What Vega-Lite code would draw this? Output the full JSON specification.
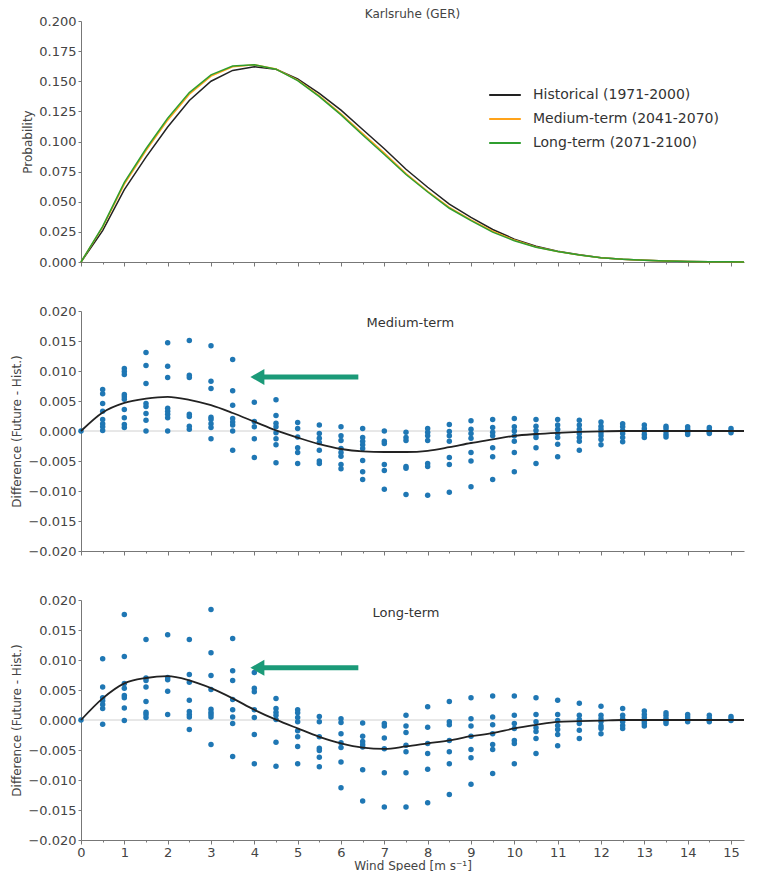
{
  "$schema": "https://vega.github.io/schema/vega-lite/v6.json",
  "padding": {"left": 10, "top": 8, "right": 5, "bottom": 0},
  "background": "white",
  "spacing": 36,
  "config": {
    "font": "DejaVu Sans",
    "view": {"stroke": null},
    "axis": {"labelFont": "DejaVu Sans", "labelFontSize": 13, "labelColor": "#444", "titleFont": "DejaVu Sans", "titleFontSize": 12, "titleFontWeight": "normal", "titleColor": "#444", "domainColor": "#777", "tickColor": "#777", "grid": false, "tickSize": 4, "labelPadding": 2},
    "title": {"font": "DejaVu Sans", "fontSize": 12, "fontWeight": "normal", "color": "#444"}
  },
  "datasets": {
    "pdf": [
      {"ws": 0, "p": 0, "period": "Historical (1971-2000)"},
      {"ws": 0.5, "p": 0.026, "period": "Historical (1971-2000)"},
      {"ws": 1, "p": 0.060, "period": "Historical (1971-2000)"},
      {"ws": 1.5, "p": 0.087, "period": "Historical (1971-2000)"},
      {"ws": 2, "p": 0.112, "period": "Historical (1971-2000)"},
      {"ws": 2.5, "p": 0.134, "period": "Historical (1971-2000)"},
      {"ws": 3, "p": 0.150, "period": "Historical (1971-2000)"},
      {"ws": 3.5, "p": 0.159, "period": "Historical (1971-2000)"},
      {"ws": 4, "p": 0.162, "period": "Historical (1971-2000)"},
      {"ws": 4.5, "p": 0.160, "period": "Historical (1971-2000)"},
      {"ws": 5, "p": 0.152, "period": "Historical (1971-2000)"},
      {"ws": 5.5, "p": 0.140, "period": "Historical (1971-2000)"},
      {"ws": 6, "p": 0.126, "period": "Historical (1971-2000)"},
      {"ws": 6.5, "p": 0.110, "period": "Historical (1971-2000)"},
      {"ws": 7, "p": 0.094, "period": "Historical (1971-2000)"},
      {"ws": 7.5, "p": 0.077, "period": "Historical (1971-2000)"},
      {"ws": 8, "p": 0.062, "period": "Historical (1971-2000)"},
      {"ws": 8.5, "p": 0.048, "period": "Historical (1971-2000)"},
      {"ws": 9, "p": 0.037, "period": "Historical (1971-2000)"},
      {"ws": 9.5, "p": 0.027, "period": "Historical (1971-2000)"},
      {"ws": 10, "p": 0.019, "period": "Historical (1971-2000)"},
      {"ws": 10.5, "p": 0.013, "period": "Historical (1971-2000)"},
      {"ws": 11, "p": 0.009, "period": "Historical (1971-2000)"},
      {"ws": 11.5, "p": 0.006, "period": "Historical (1971-2000)"},
      {"ws": 12, "p": 0.0036, "period": "Historical (1971-2000)"},
      {"ws": 12.5, "p": 0.0023, "period": "Historical (1971-2000)"},
      {"ws": 13, "p": 0.0014, "period": "Historical (1971-2000)"},
      {"ws": 13.5, "p": 0.0008, "period": "Historical (1971-2000)"},
      {"ws": 14, "p": 0.0005, "period": "Historical (1971-2000)"},
      {"ws": 14.5, "p": 0.0003, "period": "Historical (1971-2000)"},
      {"ws": 15, "p": 0.0002, "period": "Historical (1971-2000)"},
      {"ws": 15.3, "p": 0.0001, "period": "Historical (1971-2000)"},
      {"ws": 0, "p": 0, "period": "Medium-term (2041-2070)"},
      {"ws": 0.5, "p": 0.029, "period": "Medium-term (2041-2070)"},
      {"ws": 1, "p": 0.0646, "period": "Medium-term (2041-2070)"},
      {"ws": 1.5, "p": 0.0924, "period": "Medium-term (2041-2070)"},
      {"ws": 2, "p": 0.1177, "period": "Medium-term (2041-2070)"},
      {"ws": 2.5, "p": 0.1392, "period": "Medium-term (2041-2070)"},
      {"ws": 3, "p": 0.1543, "period": "Medium-term (2041-2070)"},
      {"ws": 3.5, "p": 0.162, "period": "Medium-term (2041-2070)"},
      {"ws": 4, "p": 0.1636, "period": "Medium-term (2041-2070)"},
      {"ws": 4.5, "p": 0.1601, "period": "Medium-term (2041-2070)"},
      {"ws": 5, "p": 0.1509, "period": "Medium-term (2041-2070)"},
      {"ws": 5.5, "p": 0.1378, "period": "Medium-term (2041-2070)"},
      {"ws": 6, "p": 0.123, "period": "Medium-term (2041-2070)"},
      {"ws": 6.5, "p": 0.1066, "period": "Medium-term (2041-2070)"},
      {"ws": 7, "p": 0.0905, "period": "Medium-term (2041-2070)"},
      {"ws": 7.5, "p": 0.0734, "period": "Medium-term (2041-2070)"},
      {"ws": 8, "p": 0.0587, "period": "Medium-term (2041-2070)"},
      {"ws": 8.5, "p": 0.0453, "period": "Medium-term (2041-2070)"},
      {"ws": 9, "p": 0.035, "period": "Medium-term (2041-2070)"},
      {"ws": 9.5, "p": 0.0256, "period": "Medium-term (2041-2070)"},
      {"ws": 10, "p": 0.0182, "period": "Medium-term (2041-2070)"},
      {"ws": 10.5, "p": 0.0125, "period": "Medium-term (2041-2070)"},
      {"ws": 11, "p": 0.0087, "period": "Medium-term (2041-2070)"},
      {"ws": 11.5, "p": 0.0059, "period": "Medium-term (2041-2070)"},
      {"ws": 12, "p": 0.0036, "period": "Medium-term (2041-2070)"},
      {"ws": 12.5, "p": 0.0023, "period": "Medium-term (2041-2070)"},
      {"ws": 13, "p": 0.0014, "period": "Medium-term (2041-2070)"},
      {"ws": 13.5, "p": 0.0008, "period": "Medium-term (2041-2070)"},
      {"ws": 14, "p": 0.0005, "period": "Medium-term (2041-2070)"},
      {"ws": 14.5, "p": 0.0003, "period": "Medium-term (2041-2070)"},
      {"ws": 15, "p": 0.0002, "period": "Medium-term (2041-2070)"},
      {"ws": 15.3, "p": 0.0001, "period": "Medium-term (2041-2070)"},
      {"ws": 0, "p": 0, "period": "Long-term (2071-2100)"},
      {"ws": 0.5, "p": 0.0296, "period": "Long-term (2071-2100)"},
      {"ws": 1, "p": 0.0661, "period": "Long-term (2071-2100)"},
      {"ws": 1.5, "p": 0.094, "period": "Long-term (2071-2100)"},
      {"ws": 2, "p": 0.1193, "period": "Long-term (2071-2100)"},
      {"ws": 2.5, "p": 0.1406, "period": "Long-term (2071-2100)"},
      {"ws": 3, "p": 0.1553, "period": "Long-term (2071-2100)"},
      {"ws": 3.5, "p": 0.1626, "period": "Long-term (2071-2100)"},
      {"ws": 4, "p": 0.1637, "period": "Long-term (2071-2100)"},
      {"ws": 4.5, "p": 0.1600, "period": "Long-term (2071-2100)"},
      {"ws": 5, "p": 0.1506, "period": "Long-term (2071-2100)"},
      {"ws": 5.5, "p": 0.1372, "period": "Long-term (2071-2100)"},
      {"ws": 6, "p": 0.1221, "period": "Long-term (2071-2100)"},
      {"ws": 6.5, "p": 0.1054, "period": "Long-term (2071-2100)"},
      {"ws": 7, "p": 0.0892, "period": "Long-term (2071-2100)"},
      {"ws": 7.5, "p": 0.0726, "period": "Long-term (2071-2100)"},
      {"ws": 8, "p": 0.0581, "period": "Long-term (2071-2100)"},
      {"ws": 8.5, "p": 0.0446, "period": "Long-term (2071-2100)"},
      {"ws": 9, "p": 0.0343, "period": "Long-term (2071-2100)"},
      {"ws": 9.5, "p": 0.0248, "period": "Long-term (2071-2100)"},
      {"ws": 10, "p": 0.0176, "period": "Long-term (2071-2100)"},
      {"ws": 10.5, "p": 0.0122, "period": "Long-term (2071-2100)"},
      {"ws": 11, "p": 0.0087, "period": "Long-term (2071-2100)"},
      {"ws": 11.5, "p": 0.0058, "period": "Long-term (2071-2100)"},
      {"ws": 12, "p": 0.0035, "period": "Long-term (2071-2100)"},
      {"ws": 12.5, "p": 0.0023, "period": "Long-term (2071-2100)"},
      {"ws": 13, "p": 0.0014, "period": "Long-term (2071-2100)"},
      {"ws": 13.5, "p": 0.0008, "period": "Long-term (2071-2100)"},
      {"ws": 14, "p": 0.0005, "period": "Long-term (2071-2100)"},
      {"ws": 14.5, "p": 0.0003, "period": "Long-term (2071-2100)"},
      {"ws": 15, "p": 0.0002, "period": "Long-term (2071-2100)"},
      {"ws": 15.3, "p": 0.0001, "period": "Long-term (2071-2100)"}
    ],
    "medMean": [
      {"ws": 0, "d": 0}, {"ws": 0.5, "d": 0.0031}, {"ws": 1, "d": 0.0047}, {"ws": 1.5, "d": 0.0054},
      {"ws": 2, "d": 0.0057}, {"ws": 2.5, "d": 0.0052}, {"ws": 3, "d": 0.0043}, {"ws": 3.5, "d": 0.0030},
      {"ws": 4, "d": 0.00155}, {"ws": 4.5, "d": 0.0001}, {"ws": 5, "d": -0.0011}, {"ws": 5.5, "d": -0.0022},
      {"ws": 6, "d": -0.0030}, {"ws": 6.5, "d": -0.0034}, {"ws": 7, "d": -0.0035}, {"ws": 7.5, "d": -0.0035},
      {"ws": 8, "d": -0.0033}, {"ws": 8.5, "d": -0.0027}, {"ws": 9, "d": -0.0020}, {"ws": 9.5, "d": -0.0014},
      {"ws": 10, "d": -0.0008}, {"ws": 10.5, "d": -0.0005}, {"ws": 11, "d": -0.0003}, {"ws": 11.5, "d": -0.00015},
      {"ws": 12, "d": -0.00005}, {"ws": 12.5, "d": 0}, {"ws": 13, "d": 0}, {"ws": 13.5, "d": 0},
      {"ws": 14, "d": 0}, {"ws": 14.5, "d": 0}, {"ws": 15, "d": 0}, {"ws": 15.3, "d": 0}
    ],
    "longMean": [
      {"ws": 0, "d": 0}, {"ws": 0.5, "d": 0.0036}, {"ws": 1, "d": 0.0061}, {"ws": 1.5, "d": 0.0070},
      {"ws": 2, "d": 0.0073}, {"ws": 2.5, "d": 0.0066}, {"ws": 3, "d": 0.0053}, {"ws": 3.5, "d": 0.0036},
      {"ws": 4, "d": 0.0017}, {"ws": 4.5, "d": 0.00005}, {"ws": 5, "d": -0.0014}, {"ws": 5.5, "d": -0.0028},
      {"ws": 6, "d": -0.0039}, {"ws": 6.5, "d": -0.0046}, {"ws": 7, "d": -0.0048}, {"ws": 7.5, "d": -0.0044},
      {"ws": 8, "d": -0.0039}, {"ws": 8.5, "d": -0.0034}, {"ws": 9, "d": -0.0027}, {"ws": 9.5, "d": -0.0022},
      {"ws": 10, "d": -0.0014}, {"ws": 10.5, "d": -0.0008}, {"ws": 11, "d": -0.0003}, {"ws": 11.5, "d": -0.0002},
      {"ws": 12, "d": -0.0001}, {"ws": 12.5, "d": 0}, {"ws": 13, "d": 0}, {"ws": 13.5, "d": 0},
      {"ws": 14, "d": 0}, {"ws": 14.5, "d": 0}, {"ws": 15, "d": 0}, {"ws": 15.3, "d": 0}
    ],
    "med": [
      {"ws": 0, "d": 0},
      {"ws": 0.5, "d": 0.0069}, {"ws": 0.5, "d": 0.0062}, {"ws": 0.5, "d": 0.0046}, {"ws": 0.5, "d": 0.0033}, {"ws": 0.5, "d": 0.0019}, {"ws": 0.5, "d": 0.0012}, {"ws": 0.5, "d": 0.0007}, {"ws": 0.5, "d": 0.0001},
      {"ws": 1, "d": 0.0104}, {"ws": 1, "d": 0.0099}, {"ws": 1, "d": 0.0094}, {"ws": 1, "d": 0.0061}, {"ws": 1, "d": 0.0057}, {"ws": 1, "d": 0.0053}, {"ws": 1, "d": 0.0036}, {"ws": 1, "d": 0.0022}, {"ws": 1, "d": 0.0011}, {"ws": 1, "d": 0.0006},
      {"ws": 1.5, "d": 0.0131}, {"ws": 1.5, "d": 0.0109}, {"ws": 1.5, "d": 0.0079}, {"ws": 1.5, "d": 0.0046}, {"ws": 1.5, "d": 0.0041}, {"ws": 1.5, "d": 0.0029}, {"ws": 1.5, "d": 0.0018}, {"ws": 1.5, "d": 0.0},
      {"ws": 2, "d": 0.0147}, {"ws": 2, "d": 0.0108}, {"ws": 2, "d": 0.0089}, {"ws": 2, "d": 0.0038}, {"ws": 2, "d": 0.0033}, {"ws": 2, "d": 0.0028}, {"ws": 2, "d": 0.0022}, {"ws": 2, "d": 0.0},
      {"ws": 2.5, "d": 0.0151}, {"ws": 2.5, "d": 0.0093}, {"ws": 2.5, "d": 0.0089}, {"ws": 2.5, "d": 0.0028}, {"ws": 2.5, "d": 0.0024}, {"ws": 2.5, "d": 0.0008}, {"ws": 2.5, "d": 0.0003},
      {"ws": 3, "d": 0.0142}, {"ws": 3, "d": 0.0083}, {"ws": 3, "d": 0.0071}, {"ws": 3, "d": 0.0023}, {"ws": 3, "d": 0.0019}, {"ws": 3, "d": 0.0012}, {"ws": 3, "d": 0.0006}, {"ws": 3, "d": -0.0013},
      {"ws": 3.5, "d": 0.0119}, {"ws": 3.5, "d": 0.0067}, {"ws": 3.5, "d": 0.0043}, {"ws": 3.5, "d": 0.0021}, {"ws": 3.5, "d": 0.0015}, {"ws": 3.5, "d": 0.0010}, {"ws": 3.5, "d": 0.0}, {"ws": 3.5, "d": -0.0032},
      {"ws": 4, "d": 0.0048}, {"ws": 4, "d": 0.0016}, {"ws": 4, "d": 0.0007}, {"ws": 4, "d": -0.0013}, {"ws": 4, "d": -0.0044},
      {"ws": 4.5, "d": 0.0052}, {"ws": 4.5, "d": 0.0026}, {"ws": 4.5, "d": 0.0013}, {"ws": 4.5, "d": 0.0007}, {"ws": 4.5, "d": -0.0003}, {"ws": 4.5, "d": -0.0013}, {"ws": 4.5, "d": -0.0023}, {"ws": 4.5, "d": -0.0053},
      {"ws": 5, "d": 0.0014}, {"ws": 5, "d": 0.0004}, {"ws": 5, "d": -0.0010}, {"ws": 5, "d": -0.0028}, {"ws": 5, "d": -0.0036}, {"ws": 5, "d": -0.0054},
      {"ws": 5.5, "d": 0.0010}, {"ws": 5.5, "d": -0.0004}, {"ws": 5.5, "d": -0.0012}, {"ws": 5.5, "d": -0.0019}, {"ws": 5.5, "d": -0.0032}, {"ws": 5.5, "d": -0.0050}, {"ws": 5.5, "d": -0.0054},
      {"ws": 6, "d": 0.0007}, {"ws": 6, "d": -0.0008}, {"ws": 6, "d": -0.0016}, {"ws": 6, "d": -0.0029}, {"ws": 6, "d": -0.0036}, {"ws": 6, "d": -0.0042}, {"ws": 6, "d": -0.0056}, {"ws": 6, "d": -0.0063},
      {"ws": 6.5, "d": 0.0004}, {"ws": 6.5, "d": -0.0011}, {"ws": 6.5, "d": -0.0017}, {"ws": 6.5, "d": -0.0023}, {"ws": 6.5, "d": -0.0029}, {"ws": 6.5, "d": -0.0049}, {"ws": 6.5, "d": -0.0068}, {"ws": 6.5, "d": -0.0081},
      {"ws": 7, "d": 0.0}, {"ws": 7, "d": -0.0017}, {"ws": 7, "d": -0.0021}, {"ws": 7, "d": -0.0056}, {"ws": 7, "d": -0.0066}, {"ws": 7, "d": -0.0097},
      {"ws": 7.5, "d": -0.0002}, {"ws": 7.5, "d": -0.0011}, {"ws": 7.5, "d": -0.0016}, {"ws": 7.5, "d": -0.0059}, {"ws": 7.5, "d": -0.0062}, {"ws": 7.5, "d": -0.0106},
      {"ws": 8, "d": 0.0004}, {"ws": 8, "d": -0.0002}, {"ws": 8, "d": -0.0008}, {"ws": 8, "d": -0.0016}, {"ws": 8, "d": -0.0054}, {"ws": 8, "d": -0.0059}, {"ws": 8, "d": -0.0107},
      {"ws": 8.5, "d": 0.0011}, {"ws": 8.5, "d": -0.0001}, {"ws": 8.5, "d": -0.0008}, {"ws": 8.5, "d": -0.0017}, {"ws": 8.5, "d": -0.0044}, {"ws": 8.5, "d": -0.0056}, {"ws": 8.5, "d": -0.0102},
      {"ws": 9, "d": 0.0017}, {"ws": 9, "d": 0.0003}, {"ws": 9, "d": -0.0004}, {"ws": 9, "d": -0.0012}, {"ws": 9, "d": -0.0036}, {"ws": 9, "d": -0.0050}, {"ws": 9, "d": -0.0093},
      {"ws": 9.5, "d": 0.0019}, {"ws": 9.5, "d": 0.0006}, {"ws": 9.5, "d": -0.0002}, {"ws": 9.5, "d": -0.0008}, {"ws": 9.5, "d": -0.0028}, {"ws": 9.5, "d": -0.0043}, {"ws": 9.5, "d": -0.0081},
      {"ws": 10, "d": 0.0021}, {"ws": 10, "d": 0.0007}, {"ws": 10, "d": 0.0}, {"ws": 10, "d": -0.0008}, {"ws": 10, "d": -0.0017}, {"ws": 10, "d": -0.0036}, {"ws": 10, "d": -0.0068},
      {"ws": 10.5, "d": 0.0019}, {"ws": 10.5, "d": 0.0008}, {"ws": 10.5, "d": 0.0001}, {"ws": 10.5, "d": -0.0006}, {"ws": 10.5, "d": -0.0011}, {"ws": 10.5, "d": -0.0028}, {"ws": 10.5, "d": -0.0054},
      {"ws": 11, "d": 0.0019}, {"ws": 11, "d": 0.0010}, {"ws": 11, "d": 0.0003}, {"ws": 11, "d": -0.0004}, {"ws": 11, "d": -0.0011}, {"ws": 11, "d": -0.0022}, {"ws": 11, "d": -0.0043},
      {"ws": 11.5, "d": 0.0018}, {"ws": 11.5, "d": 0.0010}, {"ws": 11.5, "d": 0.0003}, {"ws": 11.5, "d": -0.0004}, {"ws": 11.5, "d": -0.0011}, {"ws": 11.5, "d": -0.0017}, {"ws": 11.5, "d": -0.0032},
      {"ws": 12, "d": 0.0015}, {"ws": 12, "d": 0.0008}, {"ws": 12, "d": 0.0003}, {"ws": 12, "d": -0.0003}, {"ws": 12, "d": -0.0008}, {"ws": 12, "d": -0.0014}, {"ws": 12, "d": -0.0023},
      {"ws": 12.5, "d": 0.0012}, {"ws": 12.5, "d": 0.0007}, {"ws": 12.5, "d": 0.0001}, {"ws": 12.5, "d": -0.0004}, {"ws": 12.5, "d": -0.0011}, {"ws": 12.5, "d": -0.0018},
      {"ws": 13, "d": 0.0010}, {"ws": 13, "d": 0.0004}, {"ws": 13, "d": 0.0}, {"ws": 13, "d": -0.0006}, {"ws": 13, "d": -0.0011},
      {"ws": 13.5, "d": 0.0008}, {"ws": 13.5, "d": 0.0004}, {"ws": 13.5, "d": -0.0001}, {"ws": 13.5, "d": -0.0006}, {"ws": 13.5, "d": -0.0010},
      {"ws": 14, "d": 0.0007}, {"ws": 14, "d": 0.0003}, {"ws": 14, "d": -0.0002}, {"ws": 14, "d": -0.0006},
      {"ws": 14.5, "d": 0.0006}, {"ws": 14.5, "d": 0.0002}, {"ws": 14.5, "d": -0.0002}, {"ws": 14.5, "d": -0.0004},
      {"ws": 15, "d": 0.0004}, {"ws": 15, "d": 0.0}, {"ws": 15, "d": -0.0003}
    ],
    "long": [
      {"ws": 0, "d": 0},
      {"ws": 0.5, "d": 0.0102}, {"ws": 0.5, "d": 0.0055}, {"ws": 0.5, "d": 0.0037}, {"ws": 0.5, "d": 0.0032}, {"ws": 0.5, "d": 0.0026}, {"ws": 0.5, "d": 0.0019}, {"ws": 0.5, "d": -0.0007},
      {"ws": 1, "d": 0.0176}, {"ws": 1, "d": 0.0106}, {"ws": 1, "d": 0.0061}, {"ws": 1, "d": 0.0053}, {"ws": 1, "d": 0.0041}, {"ws": 1, "d": 0.0037}, {"ws": 1, "d": 0.0020}, {"ws": 1, "d": -0.0001},
      {"ws": 1.5, "d": 0.0134}, {"ws": 1.5, "d": 0.0070}, {"ws": 1.5, "d": 0.0066}, {"ws": 1.5, "d": 0.0055}, {"ws": 1.5, "d": 0.0031}, {"ws": 1.5, "d": 0.0013}, {"ws": 1.5, "d": 0.0009}, {"ws": 1.5, "d": 0.0004},
      {"ws": 2, "d": 0.0142}, {"ws": 2, "d": 0.0071}, {"ws": 2, "d": 0.0067}, {"ws": 2, "d": 0.0048}, {"ws": 2, "d": 0.0009},
      {"ws": 2.5, "d": 0.0134}, {"ws": 2.5, "d": 0.0076}, {"ws": 2.5, "d": 0.0063}, {"ws": 2.5, "d": 0.0033}, {"ws": 2.5, "d": 0.0014}, {"ws": 2.5, "d": 0.0009}, {"ws": 2.5, "d": 0.0005}, {"ws": 2.5, "d": -0.0016},
      {"ws": 3, "d": 0.0184}, {"ws": 3, "d": 0.0112}, {"ws": 3, "d": 0.0074}, {"ws": 3, "d": 0.0051}, {"ws": 3, "d": 0.0018}, {"ws": 3, "d": 0.0013}, {"ws": 3, "d": 0.0009}, {"ws": 3, "d": 0.0005}, {"ws": 3, "d": -0.0041},
      {"ws": 3.5, "d": 0.0136}, {"ws": 3.5, "d": 0.0082}, {"ws": 3.5, "d": 0.0066}, {"ws": 3.5, "d": 0.0034}, {"ws": 3.5, "d": 0.0017}, {"ws": 3.5, "d": 0.0005}, {"ws": 3.5, "d": -0.0006}, {"ws": 3.5, "d": -0.0061},
      {"ws": 4, "d": 0.0079}, {"ws": 4, "d": 0.0053}, {"ws": 4, "d": 0.0047}, {"ws": 4, "d": 0.0017}, {"ws": 4, "d": 0.0004}, {"ws": 4, "d": -0.0024}, {"ws": 4, "d": -0.0073},
      {"ws": 4.5, "d": 0.0036}, {"ws": 4.5, "d": 0.0019}, {"ws": 4.5, "d": 0.0013}, {"ws": 4.5, "d": 0.0008}, {"ws": 4.5, "d": 0.0001}, {"ws": 4.5, "d": -0.0037}, {"ws": 4.5, "d": -0.0077},
      {"ws": 5, "d": 0.0017}, {"ws": 5, "d": 0.0012}, {"ws": 5, "d": 0.0004}, {"ws": 5, "d": -0.0003}, {"ws": 5, "d": -0.0018}, {"ws": 5, "d": -0.0028}, {"ws": 5, "d": -0.0044}, {"ws": 5, "d": -0.0073},
      {"ws": 5.5, "d": 0.0006}, {"ws": 5.5, "d": -0.0003}, {"ws": 5.5, "d": -0.0028}, {"ws": 5.5, "d": -0.0047}, {"ws": 5.5, "d": -0.0051}, {"ws": 5.5, "d": -0.0062}, {"ws": 5.5, "d": -0.0078},
      {"ws": 6, "d": 0.0002}, {"ws": 6, "d": -0.0004}, {"ws": 6, "d": -0.0023}, {"ws": 6, "d": -0.0038}, {"ws": 6, "d": -0.0046}, {"ws": 6, "d": -0.0070}, {"ws": 6, "d": -0.0113},
      {"ws": 6.5, "d": -0.0005}, {"ws": 6.5, "d": -0.0027}, {"ws": 6.5, "d": -0.0036}, {"ws": 6.5, "d": -0.0041}, {"ws": 6.5, "d": -0.0045}, {"ws": 6.5, "d": -0.0083}, {"ws": 6.5, "d": -0.0135},
      {"ws": 7, "d": -0.0006}, {"ws": 7, "d": -0.0010}, {"ws": 7, "d": -0.0030}, {"ws": 7, "d": -0.0048}, {"ws": 7, "d": -0.0088}, {"ws": 7, "d": -0.0145},
      {"ws": 7.5, "d": 0.0008}, {"ws": 7.5, "d": -0.0010}, {"ws": 7.5, "d": -0.0021}, {"ws": 7.5, "d": -0.0042}, {"ws": 7.5, "d": -0.0053}, {"ws": 7.5, "d": -0.0088}, {"ws": 7.5, "d": -0.0145},
      {"ws": 8, "d": 0.0022}, {"ws": 8, "d": -0.0012}, {"ws": 8, "d": -0.0039}, {"ws": 8, "d": -0.0056}, {"ws": 8, "d": -0.0082}, {"ws": 8, "d": -0.0138},
      {"ws": 8.5, "d": 0.0031}, {"ws": 8.5, "d": -0.0003}, {"ws": 8.5, "d": -0.0008}, {"ws": 8.5, "d": -0.0034}, {"ws": 8.5, "d": -0.0053}, {"ws": 8.5, "d": -0.0073}, {"ws": 8.5, "d": -0.0124},
      {"ws": 9, "d": 0.0037}, {"ws": 9, "d": 0.0002}, {"ws": 9, "d": -0.0010}, {"ws": 9, "d": -0.0027}, {"ws": 9, "d": -0.0049}, {"ws": 9, "d": -0.0063}, {"ws": 9, "d": -0.0107},
      {"ws": 9.5, "d": 0.0040}, {"ws": 9.5, "d": 0.0005}, {"ws": 9.5, "d": -0.0008}, {"ws": 9.5, "d": -0.0023}, {"ws": 9.5, "d": -0.0041}, {"ws": 9.5, "d": -0.0049}, {"ws": 9.5, "d": -0.0089},
      {"ws": 10, "d": 0.0040}, {"ws": 10, "d": 0.0008}, {"ws": 10, "d": -0.0006}, {"ws": 10, "d": -0.0014}, {"ws": 10, "d": -0.0034}, {"ws": 10, "d": -0.0039}, {"ws": 10, "d": -0.0073},
      {"ws": 10.5, "d": 0.0037}, {"ws": 10.5, "d": 0.0009}, {"ws": 10.5, "d": -0.0003}, {"ws": 10.5, "d": -0.0013}, {"ws": 10.5, "d": -0.0019}, {"ws": 10.5, "d": -0.0031}, {"ws": 10.5, "d": -0.0056},
      {"ws": 11, "d": 0.0033}, {"ws": 11, "d": 0.0009}, {"ws": 11, "d": -0.0001}, {"ws": 11, "d": -0.0009}, {"ws": 11, "d": -0.0016}, {"ws": 11, "d": -0.0024}, {"ws": 11, "d": -0.0043},
      {"ws": 11.5, "d": 0.0028}, {"ws": 11.5, "d": 0.0008}, {"ws": 11.5, "d": 0.0001}, {"ws": 11.5, "d": -0.0006}, {"ws": 11.5, "d": -0.0017}, {"ws": 11.5, "d": -0.0031},
      {"ws": 12, "d": 0.0023}, {"ws": 12, "d": 0.0008}, {"ws": 12, "d": 0.0002}, {"ws": 12, "d": -0.0003}, {"ws": 12, "d": -0.0010}, {"ws": 12, "d": -0.0014}, {"ws": 12, "d": -0.0023},
      {"ws": 12.5, "d": 0.0019}, {"ws": 12.5, "d": 0.0008}, {"ws": 12.5, "d": 0.0002}, {"ws": 12.5, "d": -0.0003}, {"ws": 12.5, "d": -0.0009}, {"ws": 12.5, "d": -0.0014},
      {"ws": 13, "d": 0.0015}, {"ws": 13, "d": 0.0009}, {"ws": 13, "d": 0.0004}, {"ws": 13, "d": -0.0002}, {"ws": 13, "d": -0.0006}, {"ws": 13, "d": -0.0010},
      {"ws": 13.5, "d": 0.0012}, {"ws": 13.5, "d": 0.0008}, {"ws": 13.5, "d": 0.0003}, {"ws": 13.5, "d": -0.0002}, {"ws": 13.5, "d": -0.0006},
      {"ws": 14, "d": 0.0009}, {"ws": 14, "d": 0.0005}, {"ws": 14, "d": 0.0001}, {"ws": 14, "d": -0.0003},
      {"ws": 14.5, "d": 0.0008}, {"ws": 14.5, "d": 0.0003}, {"ws": 14.5, "d": -0.0001}, {"ws": 14.5, "d": -0.0003},
      {"ws": 15, "d": 0.0006}, {"ws": 15, "d": 0.0002}, {"ws": 15, "d": -0.0001}
    ]
  },
  "vconcat": [
    {
      "width": 663,
      "height": 241,
      "title": {"text": "Karlsruhe (GER)", "offset": -6},
      "data": {"name": "pdf"},
      "mark": {"type": "line", "strokeWidth": 1.5},
      "encoding": {
        "x": {"field": "ws", "type": "quantitative", "scale": {"domain": [0, 15.3], "nice": false},
          "axis": {"title": null, "labels": false, "values": [0,0.5,1,1.5,2,2.5,3,3.5,4,4.5,5,5.5,6,6.5,7,7.5,8,8.5,9,9.5,10,10.5,11,11.5,12,12.5,13,13.5,14,14.5,15],
            "tickSize": {"condition": {"test": "datum.value % 1 != 0", "value": 2}, "value": 4}}},
        "y": {"field": "p", "type": "quantitative", "scale": {"domain": [0, 0.2], "nice": false},
          "axis": {"title": "Probability", "values": [0,0.025,0.05,0.075,0.1,0.125,0.15,0.175,0.2], "format": ".3f", "tickSize": 3}},
        "color": {"field": "period", "type": "nominal", "sort": null,
          "scale": {"domain": ["Historical (1971-2000)", "Medium-term (2041-2070)", "Long-term (2071-2100)"], "range": ["#222222", "#ffa31a", "#2f9e2f"]},
          "legend": {"title": null, "orient": "none", "legendX": 407, "legendY": 57, "symbolType": "stroke", "symbolSize": 1000, "symbolStrokeWidth": 2, "labelFontSize": 14, "labelFont": "DejaVu Sans", "labelColor": "#333", "labelOffset": 11, "labelLimit": 400, "rowPadding": -7}}
      }
    },
    {
      "width": 663,
      "height": 240,
      "layer": [
        {"data": {"values": [{}]}, "mark": {"type": "rule", "color": "#d0d0d0", "strokeWidth": 1}, "encoding": {"y": {"datum": 0}}},
        {"data": {"name": "med"}, "mark": {"type": "circle", "size": 30, "opacity": 1, "color": "#1f77b4"},
          "encoding": {"x": {"field": "ws", "type": "quantitative"}, "y": {"field": "d", "type": "quantitative"}}},
        {"data": {"name": "medMean"}, "mark": {"type": "line", "color": "#222222", "strokeWidth": 1.8, "interpolate": "monotone"},
          "encoding": {"x": {"field": "ws", "type": "quantitative"}, "y": {"field": "d", "type": "quantitative"}}},
        {"data": {"values": [{}]}, "mark": {"type": "rule", "color": "#1b9a78", "strokeWidth": 5},
          "encoding": {"x": {"datum": 6.4}, "x2": {"datum": 4.15}, "y": {"datum": 0.009}}},
        {"data": {"values": [{}]}, "mark": {"type": "point", "shape": "triangle-left", "filled": true, "opacity": 1, "color": "#1b9a78", "size": 260},
          "encoding": {"x": {"datum": 4.07}, "y": {"datum": 0.009}}},
        {"data": {"values": [{}]}, "mark": {"type": "text", "text": "Medium-term", "fontSize": 13, "font": "DejaVu Sans", "color": "#333"},
          "encoding": {"x": {"datum": 7.6}, "y": {"datum": 0.018}}}
      ],
      "encoding": {
        "x": {"type": "quantitative", "scale": {"domain": [0, 15.3], "nice": false},
          "axis": {"title": null, "labels": false, "values": [0,0.5,1,1.5,2,2.5,3,3.5,4,4.5,5,5.5,6,6.5,7,7.5,8,8.5,9,9.5,10,10.5,11,11.5,12,12.5,13,13.5,14,14.5,15],
            "tickSize": {"condition": {"test": "datum.value % 1 != 0", "value": 2}, "value": 4}}},
        "y": {"type": "quantitative", "scale": {"domain": [-0.02, 0.02], "nice": false},
          "axis": {"title": "Difference (Future - Hist.)", "values": [-0.02,-0.015,-0.01,-0.005,0,0.005,0.01,0.015,0.02], "format": ".3f", "tickSize": 3}}
      }
    },
    {
      "width": 663,
      "height": 240,
      "layer": [
        {"data": {"values": [{}]}, "mark": {"type": "rule", "color": "#d0d0d0", "strokeWidth": 1}, "encoding": {"y": {"datum": 0}}},
        {"data": {"name": "long"}, "mark": {"type": "circle", "size": 30, "opacity": 1, "color": "#1f77b4"},
          "encoding": {"x": {"field": "ws", "type": "quantitative"}, "y": {"field": "d", "type": "quantitative"}}},
        {"data": {"name": "longMean"}, "mark": {"type": "line", "color": "#222222", "strokeWidth": 1.8, "interpolate": "monotone"},
          "encoding": {"x": {"field": "ws", "type": "quantitative"}, "y": {"field": "d", "type": "quantitative"}}},
        {"data": {"values": [{}]}, "mark": {"type": "rule", "color": "#1b9a78", "strokeWidth": 5},
          "encoding": {"x": {"datum": 6.4}, "x2": {"datum": 4.15}, "y": {"datum": 0.0087}}},
        {"data": {"values": [{}]}, "mark": {"type": "point", "shape": "triangle-left", "filled": true, "opacity": 1, "color": "#1b9a78", "size": 260},
          "encoding": {"x": {"datum": 4.07}, "y": {"datum": 0.0087}}},
        {"data": {"values": [{}]}, "mark": {"type": "text", "text": "Long-term", "fontSize": 13, "font": "DejaVu Sans", "color": "#333"},
          "encoding": {"x": {"datum": 7.5}, "y": {"datum": 0.0178}}}
      ],
      "encoding": {
        "x": {"type": "quantitative", "scale": {"domain": [0, 15.3], "nice": false},
          "axis": {"title": "Wind Speed [m s⁻¹]", "titlePadding": 1, "labelFlush": false, "values": [0,0.5,1,1.5,2,2.5,3,3.5,4,4.5,5,5.5,6,6.5,7,7.5,8,8.5,9,9.5,10,10.5,11,11.5,12,12.5,13,13.5,14,14.5,15],
            "labelExpr": "datum.value % 1 === 0 ? toString(datum.value) : ''", "labelFontSize": 13,
            "tickSize": {"condition": {"test": "datum.value % 1 != 0", "value": 2}, "value": 4}}},
        "y": {"type": "quantitative", "scale": {"domain": [-0.02, 0.02], "nice": false},
          "axis": {"title": "Difference (Future - Hist.)", "values": [-0.02,-0.015,-0.01,-0.005,0,0.005,0.01,0.015,0.02], "format": ".3f", "tickSize": 3}}
      }
    }
  ]
}
